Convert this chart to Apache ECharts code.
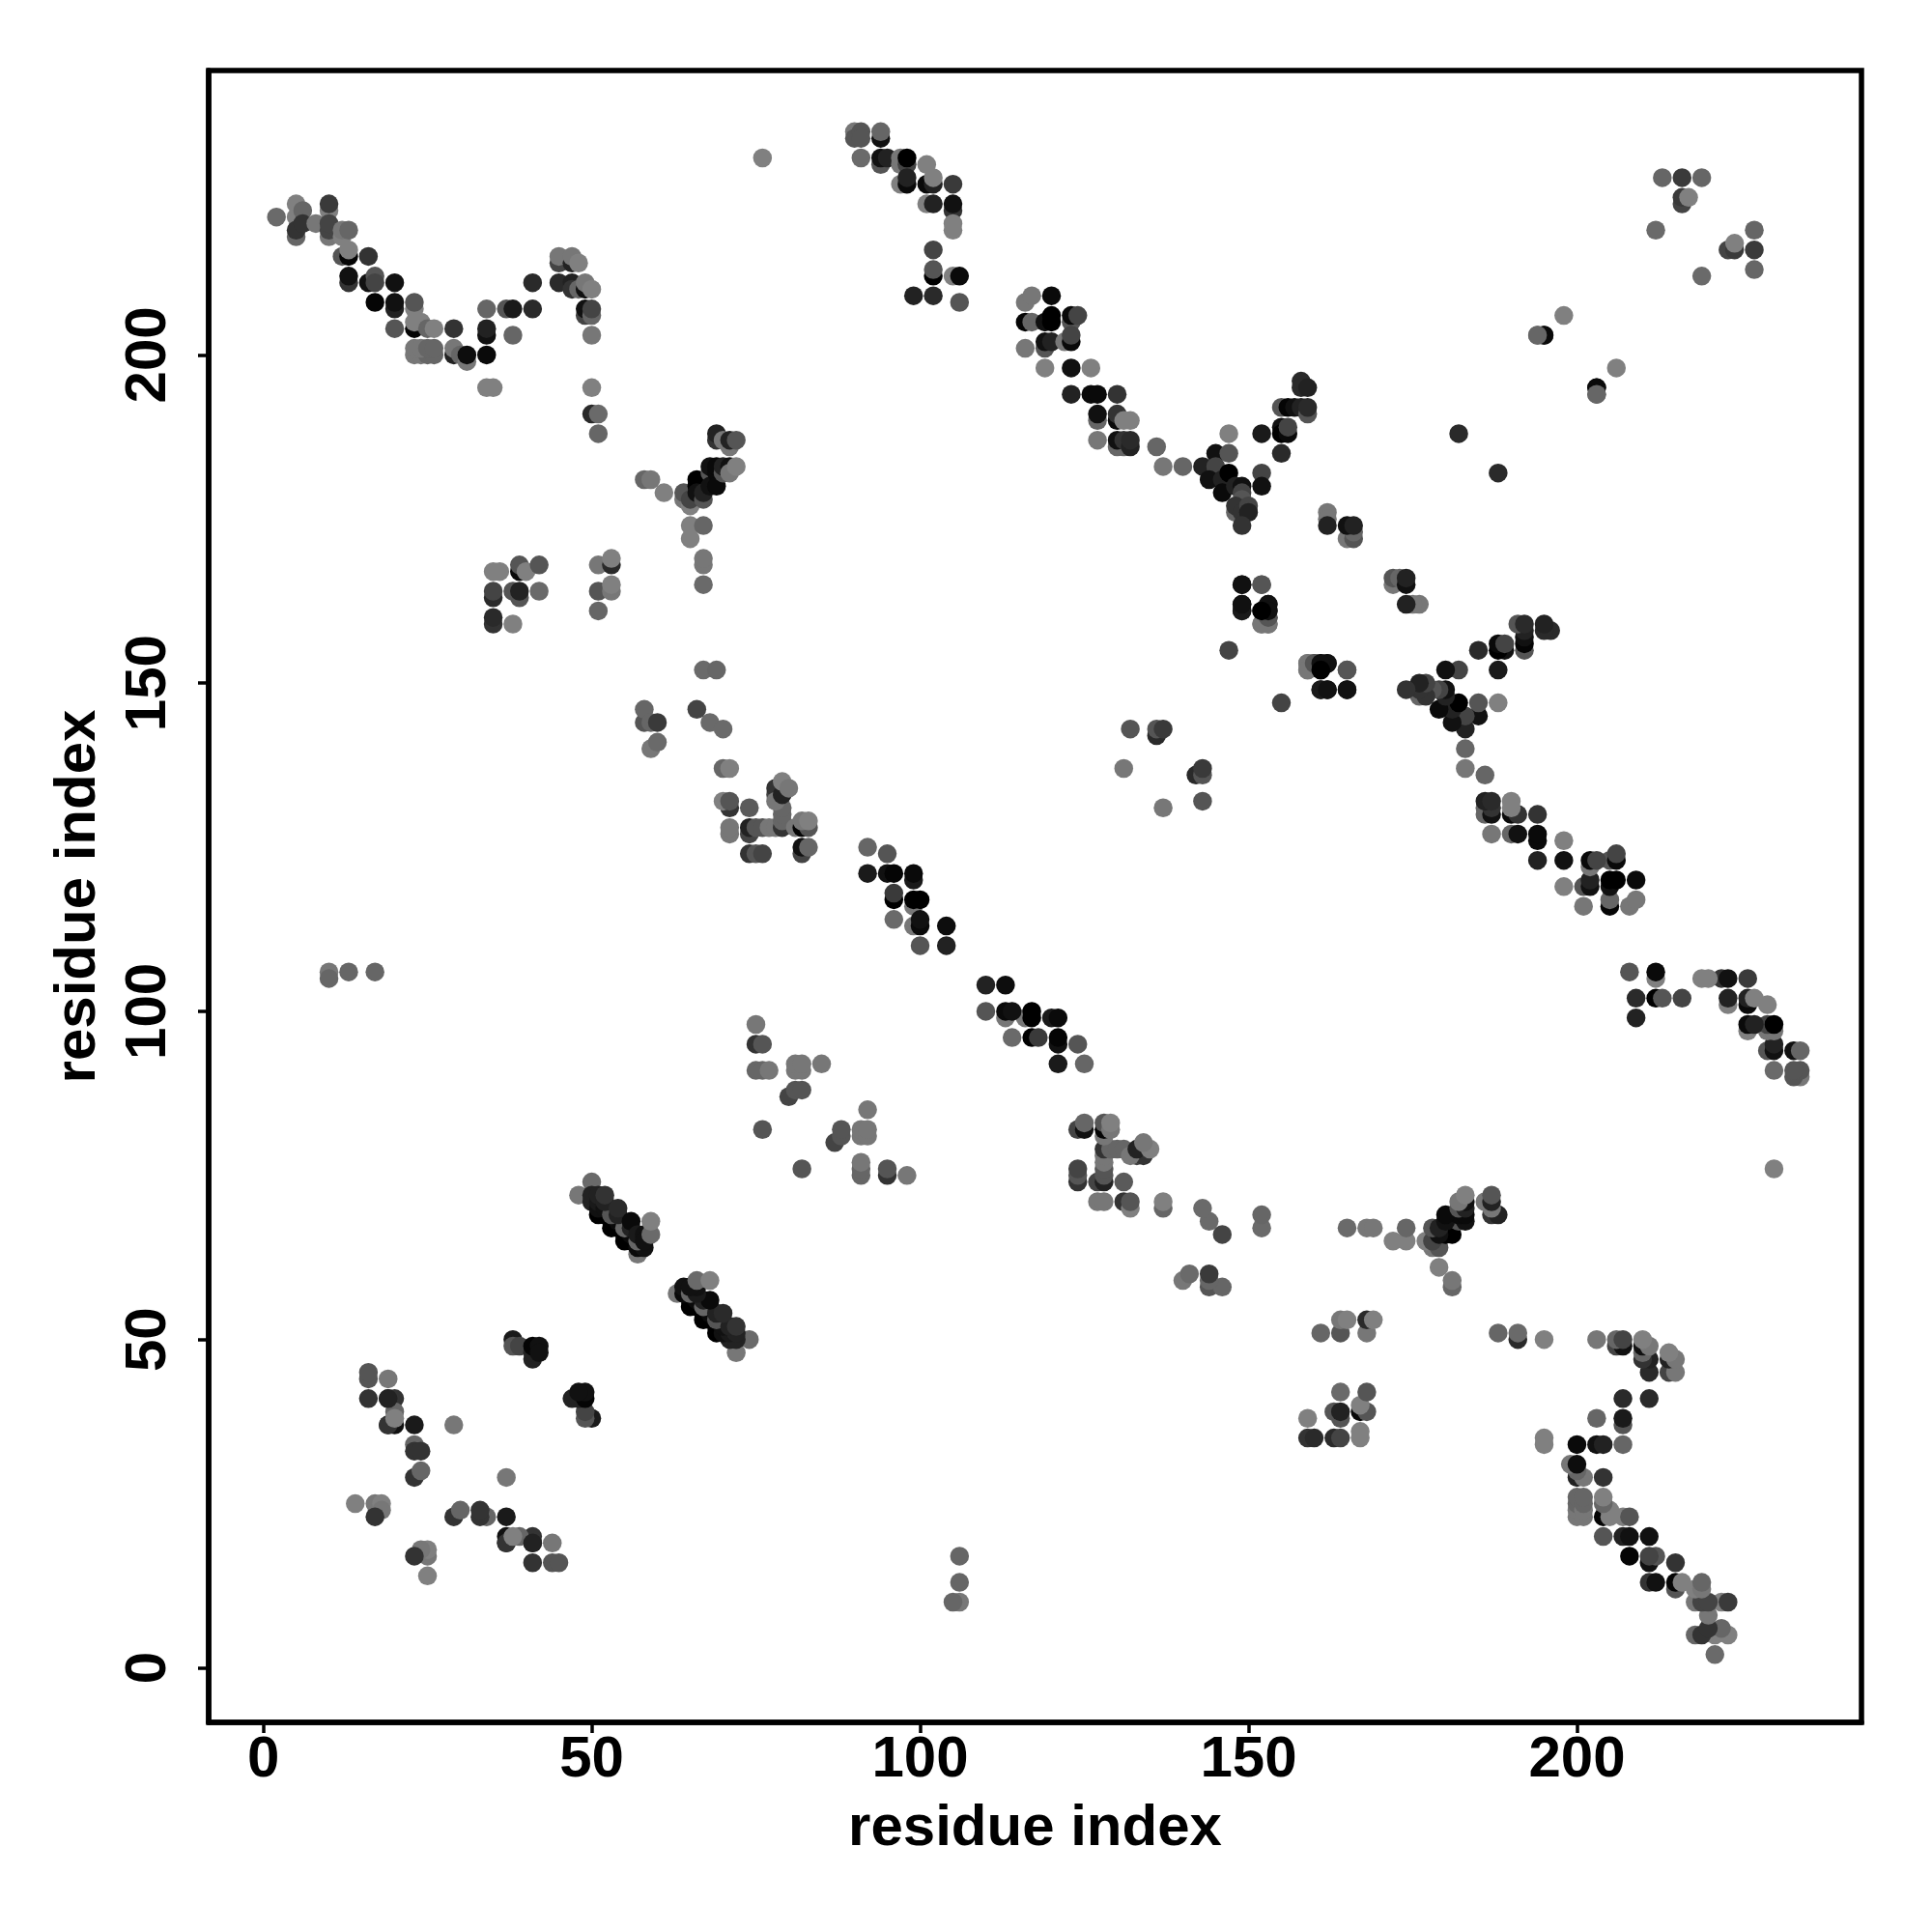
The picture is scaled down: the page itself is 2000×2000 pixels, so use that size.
<!DOCTYPE html>
<html><head><meta charset="utf-8">
<style>html,body{margin:0;padding:0;background:#fff}#c{width:2000px;height:2000px}</style>
<script src="https://cdn.jsdelivr.net/npm/echarts@6/dist/echarts.min.js"></script></head>
<body><div id="c"></div>
<script>
// Each contact: [residue i, residue j, grey level]; the map is symmetric, so (j,i) is drawn too.
const tickValues = [0, 50, 100, 150, 200];
const axisTitle = 'residue index';
const armTopLeft = [[2,221,106],[5,223,128],[5,221,128],[5,218,102],[5,219,51],[6,222,102],[6,220,51],[8,220,119],[10,222,128],[10,223,58],[10,218,119],[10,219,68],[10,220,68],[12,218,128],[12,219,119],[13,219,102],[12,215,85],[13,215,5],[13,216,128],[16,215,51],[13,211,51],[13,212,17],[16,211,17],[17,212,85],[17,211,68],[20,211,17],[17,208,5],[20,207,34],[20,208,17],[23,207,128],[23,208,85],[20,204,85],[23,204,5],[23,205,128],[24,205,128],[25,204,102],[26,204,128],[23,200,119],[24,200,119],[25,200,102],[26,200,102],[23,201,119],[24,201,119],[25,201,102],[26,201,102],[29,204,51],[29,200,34],[29,201,119],[30,200,102],[31,199,119],[31,200,13],[34,203,17],[34,204,34],[34,200,10],[34,207,102],[34,195,128],[35,195,128],[37,207,85],[38,207,26],[38,203,102],[41,211,42],[41,207,42],[45,211,42],[45,214,68],[45,215,119],[47,214,34],[47,215,119],[48,214,128],[47,211,34],[47,210,51],[48,210,102],[49,210,17],[49,211,119],[50,210,128],[49,206,68],[49,207,17],[50,206,102],[50,207,68],[50,203,119],[50,195,128],[50,191,42],[51,191,106],[51,188,102]];
const armTopMiddle = [[76,230,128],[90,234,119],[90,233,85],[91,234,85],[91,233,85],[94,233,17],[94,234,102],[91,230,106],[94,229,85],[94,230,17],[95,230,34],[97,229,119],[97,230,119],[98,229,68],[98,230,0],[97,226,128],[98,226,10],[98,227,34],[101,229,128],[101,226,10],[102,226,34],[102,227,128],[105,226,58],[101,223,128],[102,223,34],[105,222,51],[105,223,17],[105,220,128],[105,219,128],[102,216,68],[102,212,0],[102,213,85],[105,212,128],[106,212,10],[99,209,34],[102,209,42],[106,208,85]];
const armUpperCentre = [[116,208,119],[117,209,119],[120,209,10],[116,205,5],[117,205,102],[119,205,17],[120,206,0],[120,205,0],[123,205,85],[123,206,10],[124,206,68],[119,201,85],[116,201,119],[119,202,17],[120,202,34],[122,202,119],[123,202,10],[123,203,68],[119,198,128],[123,198,17],[126,198,128],[123,194,34],[126,194,10],[127,194,10],[130,194,51],[127,190,102],[127,191,17],[130,190,10],[130,191,51],[131,190,128],[132,190,128],[127,187,119],[130,186,102],[131,186,102],[130,187,17],[131,187,51],[132,186,34],[132,187,42],[136,186,102],[137,183,119],[140,183,102]];
const vBandRight = [[147,188,128],[145,185,17],[147,185,85],[152,188,26],[155,189,17],[155,188,0],[156,188,10],[156,189,68],[155,185,42],[158,196,42],[158,195,42],[159,195,34],[155,192,85],[156,192,5],[157,192,17],[158,192,34],[159,191,85],[159,192,42],[143,183,34],[145,183,68],[144,181,17],[146,181,34],[146,179,10],[147,182,0],[148,180,34],[149,180,17],[149,179,68],[149,178,85],[148,176,102],[148,177,51],[149,176,51],[150,177,68],[150,176,34],[149,174,51],[152,182,68],[152,180,17],[182,188,42],[162,176,119],[162,175,119],[162,174,34],[165,172,119],[166,172,85],[166,173,102],[165,174,17],[166,174,34]];
const blockMidRight = [[149,165,17],[152,165,102],[149,161,34],[149,162,17],[152,159,119],[153,159,102],[153,160,51],[152,161,10],[153,161,10],[153,162,26],[147,155,68],[159,153,119],[159,152,119],[160,153,85],[162,153,17],[161,153,17],[161,152,0],[165,152,85],[161,149,26],[162,149,17],[165,149,17]];
const farCorner = [[194,203,102],[195,203,17],[198,206,128],[203,195,10],[203,194,102],[213,227,102],[216,227,58],[219,227,102],[216,223,68],[216,224,58],[217,224,128],[212,219,106]];
const spurLeft = [[58,181,102],[59,181,119],[61,179,128],[64,178,119],[64,179,85],[65,177,128],[65,178,68],[66,181,0],[66,180,0],[66,179,17],[67,178,85],[67,179,34],[68,182,85],[68,183,17],[68,180,17],[69,182,10],[69,183,10],[69,180,10],[70,182,85],[70,183,34],[71,183,17],[71,182,119],[72,183,128],[69,187,51],[69,188,34],[70,187,119],[71,186,119],[71,187,34],[72,187,85],[65,174,128],[67,174,102],[65,172,128],[67,168,119],[67,169,119],[67,165,106]];
const blockLeft = [[35,167,128],[36,167,128],[35,163,42],[35,164,68],[35,159,51],[35,160,42],[38,159,128],[38,164,85],[39,163,85],[39,164,34],[39,167,10],[39,168,85],[40,167,128],[42,168,85],[42,164,106],[51,168,119],[53,168,42],[53,169,128],[51,164,85],[53,164,119],[53,165,128],[51,161,102]];
const clusterMid = [[67,152,106],[69,152,102],[58,144,85],[58,146,102],[59,144,102],[60,144,58],[66,146,68],[68,144,106],[70,143,106],[59,140,119],[60,141,106],[70,137,102],[71,137,128],[71,131,51],[70,132,128],[71,132,85],[74,131,90],[71,127,119],[71,128,119],[74,127,68],[74,128,34],[75,128,85],[76,128,85],[77,128,119],[78,128,119],[78,133,68],[78,134,51],[79,128,51],[79,129,102],[79,130,102],[79,131,102],[78,132,119],[79,133,34],[79,135,128],[80,134,119],[81,128,119],[82,128,5],[83,128,85],[82,129,119],[83,129,128],[82,124,68],[82,125,17],[83,125,102],[74,124,51],[75,124,85],[76,124,68]];
const bandCentre = [[92,125,102],[95,124,85],[92,121,26],[95,121,17],[96,121,5],[99,120,26],[99,121,10],[96,117,0],[96,118,58],[99,116,119],[99,117,0],[100,117,0],[96,114,106],[99,113,119],[100,113,10],[100,114,17],[100,110,85],[104,113,13],[104,110,34]];
const blockLower = [[131,137,119],[132,143,85],[136,142,42],[136,143,85],[137,143,58],[75,98,119],[75,95,51],[76,95,85],[75,91,102],[76,91,102],[77,91,119],[80,87,68],[81,88,85],[82,88,85],[81,91,119],[82,91,119],[81,92,119],[82,92,119],[85,92,119],[76,82,85],[10,106,119],[10,105,102],[13,106,102],[17,106,102]];
const bandNearDiagonal = [[48,72,119],[50,74,106],[51,69,0],[52,69,0],[53,67,0],[54,67,0],[55,65,0],[56,65,0],[57,63,119],[57,64,10],[58,64,17],[50,71,34],[50,72,34],[51,70,17],[51,71,26],[51,72,34],[52,70,17],[53,68,0],[54,68,10],[55,66,0],[56,66,10],[53,69,85],[55,67,102],[57,65,102],[52,71,34],[52,72,51],[54,69,34],[54,70,42],[56,67,34],[56,68,10],[57,66,26],[58,66,17],[58,65,17],[59,66,106],[59,68,128]];
const clusterLowLeft = [[16,44,85],[16,45,85],[16,41,51],[19,44,119],[19,41,34],[20,41,51],[20,39,102],[19,37,51],[20,37,17],[23,37,26],[23,34,102],[23,33,51],[24,33,51],[23,29,51],[24,30,102],[29,37,119],[14,25,128],[17,25,119],[18,25,128],[18,24,119],[17,23,51],[19,37,51],[20,38,128],[19,41,34],[38,50,26],[38,49,85],[39,49,68],[41,47,34],[41,48,34],[41,49,5],[42,49,17],[42,48,17]];
const contactGroups = [armTopLeft, armTopMiddle, armUpperCentre, vBandRight, blockMidRight, farCorner, spurLeft, blockLeft, clusterMid, bandCentre, blockLower, bandNearDiagonal, clusterLowLeft];

const points = [];
contactGroups.forEach(function (g) {
  g.forEach(function (c) {
    points.push([c[0], c[1], c[2]]);
    points.push([c[1], c[0], c[2]]);
  });
});
const axisBase = {
  type: 'value', min: -8.32, max: 243.32,
  name: axisTitle, nameLocation: 'middle',
  nameTextStyle: { fontFamily: 'Liberation Sans', fontWeight: 'bold', fontSize: 60, color: '#000' },
  axisLine: { show: true, onZero: false, lineStyle: { color: '#000', width: 5.5 } },
  axisTick: { show: true, customValues: tickValues, length: 11, lineStyle: { color: '#000', width: 3.5 } },
  splitLine: { show: false }
};
const labelBase = { customValues: tickValues, fontFamily: 'Liberation Sans', fontWeight: 'bold', fontSize: 60, color: '#000' };
const chart = echarts.init(document.getElementById('c'), null, { renderer: 'canvas' });
chart.setOption({
  animation: false,
  backgroundColor: '#fff',
  grid: { left: 216, right: 73, top: 73, bottom: 217, show: true, borderColor: '#000', borderWidth: 5.5, containLabel: false },
  xAxis: Object.assign({}, axisBase, { nameGap: 80, axisLabel: Object.assign({}, labelBase, { margin: 9 }) }),
  yAxis: Object.assign({}, axisBase, { nameGap: 105, axisLabel: Object.assign({}, labelBase, { rotate: 90, margin: 32 }) }),
  series: [{
    type: 'scatter', data: points, symbol: 'circle', symbolSize: 19.5, clip: true, progressive: 0,
    itemStyle: { opacity: 1, color: function (p) { const g = p.value[2]; return 'rgb(' + g + ',' + g + ',' + g + ')'; } }
  }]
});
</script></body></html>
